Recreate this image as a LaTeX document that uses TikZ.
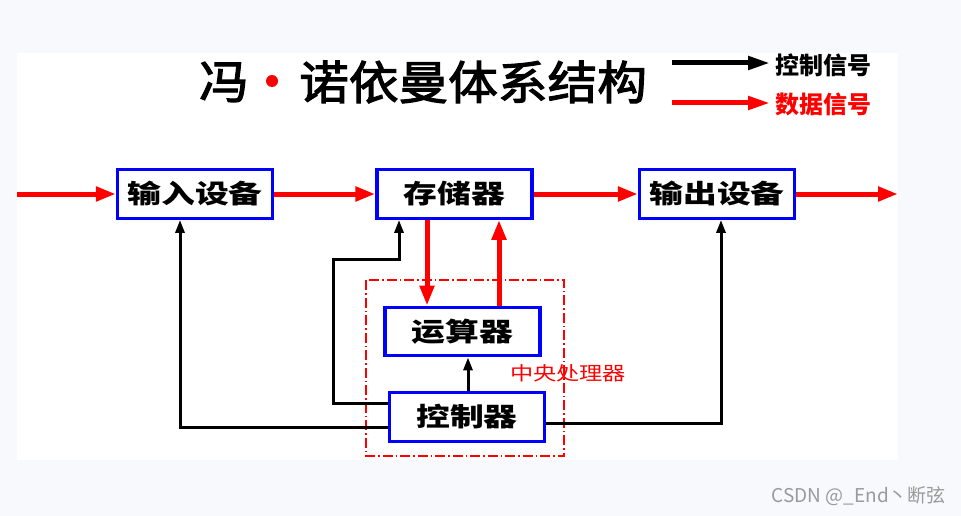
\documentclass[tikz,border=0pt]{standalone}
\usepackage{fontspec}
\usetikzlibrary{arrows.meta,calc}
\newfontfamily\cjk{Noto Sans CJK SC}
\newfontfamily\cjkwide[FakeStretch=1.3]{Noto Sans CJK SC}
\newfontfamily\cjkred[FakeStretch=1.22]{Noto Sans CJK SC}
\newfontfamily\cjktitle[FakeStretch=1.08,FakeBold=2.5]{Noto Sans CJK SC}
\definecolor{bgc}{HTML}{F8F9FC}
\definecolor{boxblue}{HTML}{0000FF}
\definecolor{sigred}{HTML}{FF0000}
\definecolor{wmgray}{HTML}{9A9A9A}
\begin{document}
\begin{tikzpicture}[x=1pt,y=-1pt,
  blk/.style={draw=boxblue,line width=3.3pt,fill=white,minimum width=155pt,minimum height=48.5pt,inner sep=0pt,
    font=\cjkwide\bfseries\fontsize{26}{26}\selectfont},
  data/.style={draw=sigred,line width=5pt,-{Triangle[length=20pt,width=14pt]}},
  ctrl/.style={draw=black,line width=3pt,-{Triangle[length=13pt,width=9pt]}},
  legk/.style={line width=5pt,-{Triangle[length=22pt,width=13pt]}},
  legtext/.style={anchor=west,inner sep=0pt,font=\cjk\bfseries\fontsize{24}{24}\selectfont},
  cpuframe/.style={draw=sigred,line width=1.2pt,dash pattern=on 10pt off 3pt on 1.5pt off 3pt}]
\useasboundingbox (0,0) rectangle (961,516);
\fill[bgc] (0,0) rectangle (961,516);
\fill[white] (17,53) rectangle (898,460);

% title
\node[inner sep=0pt,font=\cjktitle\fontsize{46}{46}\selectfont] (t1) at (224,82) {冯};
\node[circle,fill=sigred,inner sep=0pt,minimum size=12pt] (tdot) at (272,81) {};
\node[anchor=west,inner sep=0pt,font=\cjktitle\fontsize{46}{46}\selectfont] (t2) at (299,82) {诺依曼体系结构};

% legend
\coordinate (l1a) at (672,63);
\coordinate (l1b) at (770,63);
\coordinate (l2a) at (672,103);
\coordinate (l2b) at (770,103);
\draw[legk,black] (l1a) -- (l1b);
\draw[legk,sigred] (l2a) -- (l2b);
\node[legtext] (lk) at (775,65) {控制信号};
\node[legtext,text=sigred] (ld) at (775,104) {数据信号};

% CPU frame
\draw[cpuframe] (366,280) rectangle (564,456);
\node[anchor=west,inner sep=0pt,text=sigred,font=\cjkred\fontsize{19}{19}\selectfont] (cpu) at (510,373) {中央处理器};

% boxes
\node[blk] (in)  at (195,194) {输入设备};
\node[blk] (st)  at (454.5,194) {存储器};
\node[blk] (out) at (717,194) {输出设备};
\node[blk] (alu) at (462.5,331.5) {运算器};
\node[blk] (ctl) at (467,417) {控制器};

% helper coordinates
\coordinate (src) at (17,194);
\coordinate (snk) at (898,194);
\coordinate (xin) at (180,0);
\coordinate (xst) at (399,0);
\coordinate (xout) at (721,0);
\coordinate (xca) at (468,0);
\coordinate (xd1) at (427,0);
\coordinate (xd2) at (499,0);
\coordinate (bend) at (333,259);

% data signals
\draw[data] (src) -- (in.west);
\draw[data] (in.east) -- (st.west);
\draw[data] (st.east) -- (out.west);
\draw[data] (out.east) -- (snk);
\draw[data] (st.south -| xd1) -- (alu.north -| xd1);
\draw[data] (alu.north -| xd2) -- (st.south -| xd2);

% control signals
\draw[ctrl] (ctl.north -| xca) -- (alu.south -| xca);
\draw[ctrl] ([yshift=-10pt]ctl.west) -| (in.south -| xin);
\draw[ctrl] ([yshift=14pt]ctl.west) -| (bend) -| (st.south -| xst);
\draw[ctrl] ([yshift=-6pt]ctl.east) -| (out.south -| xout);

% watermark
\node[anchor=east,inner sep=0pt,text=wmgray,font=\cjk\fontsize{19}{19}\selectfont] (wm) at (946,496) {CSDN @\_End丶断弦};
\end{tikzpicture}
\end{document}
